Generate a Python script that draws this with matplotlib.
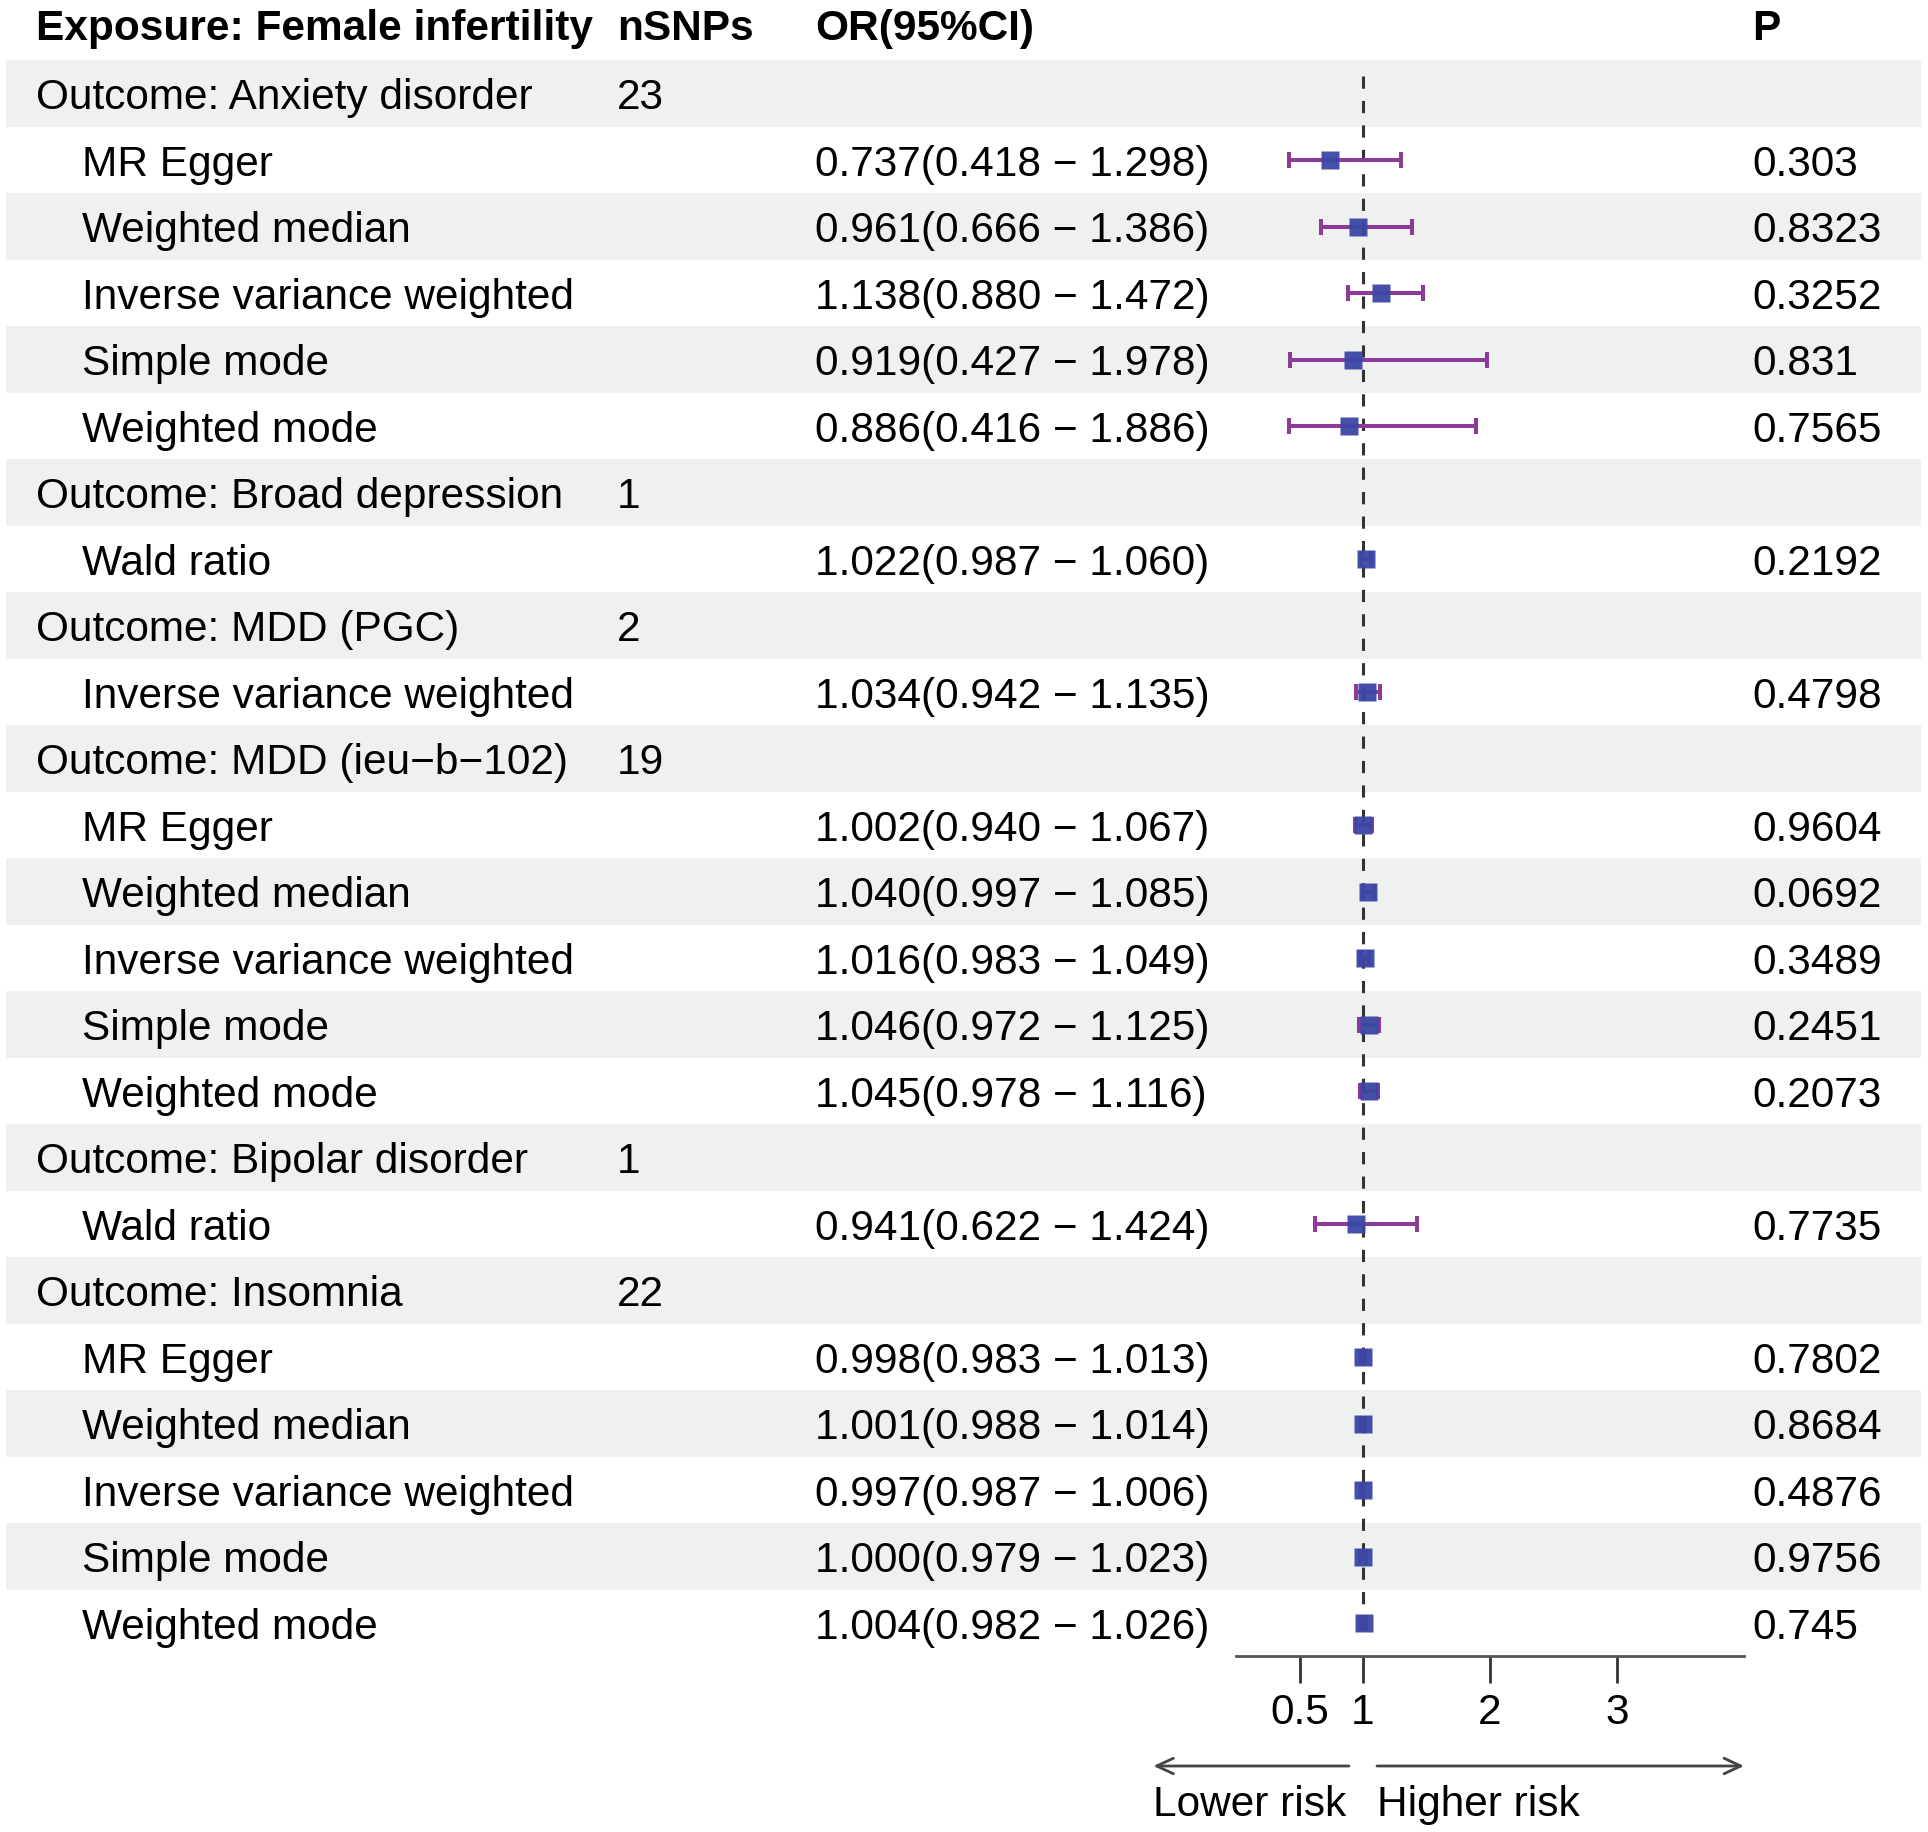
import matplotlib
matplotlib.use("Agg")
import matplotlib.pyplot as plt
import numpy as np

plt.rcParams['font.family'] = ['Liberation Sans', 'DejaVu Sans']

# ---------------- data ----------------
exposure = "Female infertility"
outcome_names = ["Anxiety disorder", "Broad depression", "MDD (PGC)",
                 "MDD (ieu\u2212b\u2212102)", "Bipolar disorder", "Insomnia"]
outcome_nsnps = [23, 1, 2, 19, 1, 22]
outcome_methods = [
    ["MR Egger", "Weighted median", "Inverse variance weighted", "Simple mode", "Weighted mode"],
    ["Wald ratio"],
    ["Inverse variance weighted"],
    ["MR Egger", "Weighted median", "Inverse variance weighted", "Simple mode", "Weighted mode"],
    ["Wald ratio"],
    ["MR Egger", "Weighted median", "Inverse variance weighted", "Simple mode", "Weighted mode"],
]
or_vals = [0.737, 0.961, 1.138, 0.919, 0.886,
           1.022,
           1.034,
           1.002, 1.040, 1.016, 1.046, 1.045,
           0.941,
           0.998, 1.001, 0.997, 1.000, 1.004]
ci_low = [0.418, 0.666, 0.880, 0.427, 0.416,
          0.987,
          0.942,
          0.940, 0.997, 0.983, 0.972, 0.978,
          0.622,
          0.983, 0.988, 0.987, 0.979, 0.982]
ci_high = [1.298, 1.386, 1.472, 1.978, 1.886,
           1.060,
           1.135,
           1.067, 1.085, 1.049, 1.125, 1.116,
           1.424,
           1.013, 1.014, 1.006, 1.023, 1.026]
p_vals = ["0.303", "0.8323", "0.3252", "0.831", "0.7565",
          "0.2192",
          "0.4798",
          "0.9604", "0.0692", "0.3489", "0.2451", "0.2073",
          "0.7735",
          "0.7802", "0.8684", "0.4876", "0.9756", "0.745"]
x_ticks = [0.5, 1, 2, 3]
x_tick_labels = ["0.5", "1", "2", "3"]
x_range = (0, 4)

# ---------------- layout ----------------
W, H = 1928, 1833
fig = plt.figure(figsize=(W / 100, H / 100), dpi=100)
fig.patch.set_facecolor("white")

n_rows = len(outcome_names) + len(or_vals)
row_top_px, row_h_px = 61.45, 66.5
top_px = row_top_px
bot_px = row_top_px + row_h_px * n_rows
ax_b = 1 - bot_px / H
ax_h = (bot_px - top_px) / H

ax_bg = fig.add_axes([0, ax_b, 1, ax_h])
ax_bg.set_xlim(0, 1)
ax_bg.set_ylim(n_rows - 0.5, -0.5)
ax_bg.axis("off")

fx_left, fx_right = 1236 / W, 1744 / W
ax = fig.add_axes([fx_left, ax_b, fx_right - fx_left, ax_h])
ax.set_xlim(*x_range)
ax.set_ylim(n_rows - 0.5, -0.5)
ax.patch.set_alpha(0)

FS = 30.5
col_outcome = 35.7 / W
col_method = 82.4 / W
col_n = 617 / W
col_or = 815 / W
col_p = 1752 / W
dy = 0.055  # text vertical nudge (rows)

# header
hy = -1.05 + dy
ax_bg.text(col_outcome, hy, f"Exposure: {exposure}", fontsize=FS, fontweight="bold",
           va="center", ha="left", clip_on=False)
ax_bg.text(col_n, hy, "nSNPs", fontsize=FS, fontweight="bold", va="center", ha="left", clip_on=False)
ax_bg.text(col_or, hy, "OR(95%CI)", fontsize=FS, fontweight="bold", va="center", ha="left", clip_on=False)
ax_bg.text(col_p, hy, "P", fontsize=FS, fontweight="bold", va="center", ha="left", clip_on=False)

# rows
row = 0
k = 0
est_rows = []
for oi, name in enumerate(outcome_names):
    rows_here = [row] + [row + j + 1 for j in range(len(outcome_methods[oi]))]
    for r in rows_here:
        if r % 2 == 0:
            ax_bg.axhspan(r - 0.5, r + 0.5, xmin=6 / W, xmax=1921 / W,
                          facecolor="#eff1f1", edgecolor="none", zorder=0)
    ax_bg.text(col_outcome, row + dy, f"Outcome: {name}", fontsize=FS, va="center", ha="left")
    ax_bg.text(col_n, row + dy, str(outcome_nsnps[oi]), fontsize=FS, va="center", ha="left")
    row += 1
    for m in outcome_methods[oi]:
        ax_bg.text(col_method, row + dy, m, fontsize=FS, va="center", ha="left")
        ax_bg.text(col_or, row + dy, f"{or_vals[k]:.3f}({ci_low[k]:.3f} \u2212 {ci_high[k]:.3f})",
                   fontsize=FS, va="center", ha="left")
        ax_bg.text(col_p, row + dy, p_vals[k], fontsize=FS, va="center", ha="left")
        est_rows.append(row)
        row += 1
        k += 1

est_rows = np.array(est_rows)
orv = np.array(or_vals)
lo = np.array(ci_low)
hi = np.array(ci_high)

# reference line
ax.plot([1, 1], [-0.26, n_rows - 0.76], color="#333333", lw=2.2,
        linestyle=(0, (4, 4)), zorder=2)

# CIs and points
ax.errorbar(orv, est_rows, xerr=[orv - lo, hi - orv], fmt="none",
            ecolor="#8b3c98", elinewidth=2.9, capsize=6, capthick=2.9, zorder=3)
ax.plot(orv, est_rows, linestyle="none", marker="s", markersize=12.5,
        markerfacecolor="#3b46a3", markeredgecolor="none", alpha=0.95, zorder=4)

# axis styling
for s in ["top", "right", "left"]:
    ax.spines[s].set_visible(False)
ax.spines["bottom"].set_color("#555555")
ax.spines["bottom"].set_linewidth(2)
ax.set_yticks([])
ax.set_xticks(x_ticks)
ax.set_xticklabels(x_tick_labels, fontsize=FS)
ax.tick_params(axis="x", length=19.5, width=2, color="#333333", pad=6)

# arrows and labels
ya = -(1767 - bot_px) / (bot_px - top_px)
yt = -(1805 - bot_px) / (bot_px - top_px)
arrow_kw = dict(arrowstyle="->,head_length=0.6,head_width=0.28", color="#444444",
                lw=2, mutation_scale=20, shrinkA=0, shrinkB=0)
ax.annotate("", xy=(-0.65, ya), xytext=(0.89, ya),
            xycoords=("data", "axes fraction"), textcoords=("data", "axes fraction"),
            arrowprops=arrow_kw, annotation_clip=False)
ax.annotate("", xy=(4.0, ya), xytext=(1.11, ya),
            xycoords=("data", "axes fraction"), textcoords=("data", "axes fraction"),
            arrowprops=arrow_kw, annotation_clip=False)
ax.text(-0.65, yt, "Lower risk", fontsize=FS, ha="left", va="center",
        transform=ax.get_xaxis_transform(), clip_on=False)
ax.text(1.11, yt, "Higher risk", fontsize=FS, ha="left", va="center",
        transform=ax.get_xaxis_transform(), clip_on=False)

fig.savefig("out.png", dpi=100, facecolor="white")
